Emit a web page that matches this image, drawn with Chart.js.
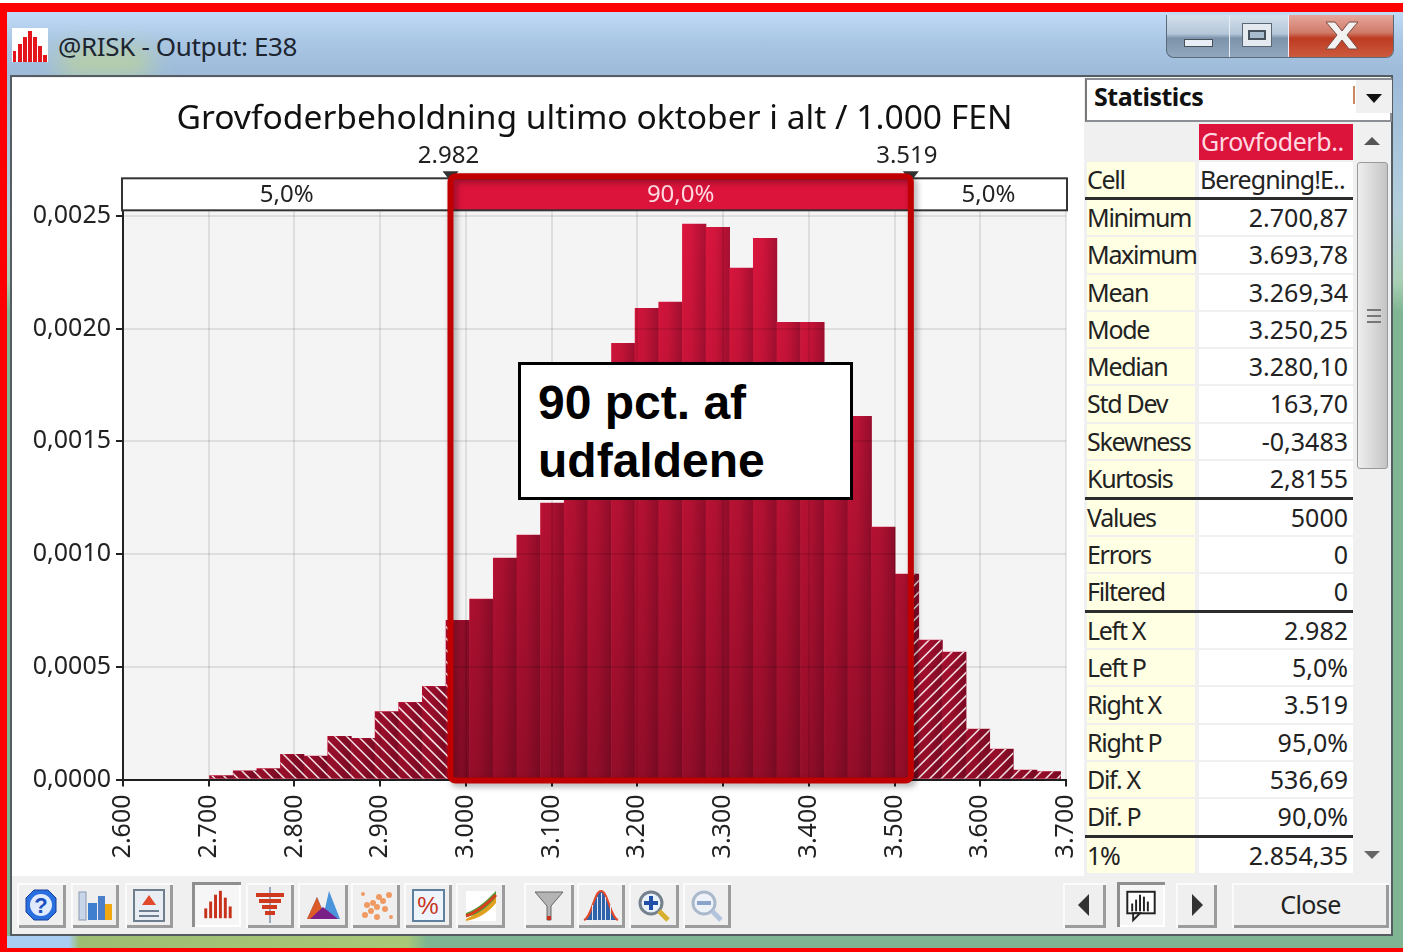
<!DOCTYPE html>
<html>
<head>
<meta charset="utf-8">
<title>@RISK - Output: E38</title>
<script src="https://cdn.jsdelivr.net/npm/chart.js@4"></script>
<style>
html, body { margin: 0; padding: 0; background: #fff; }
body { position: relative; width: 1403px; height: 952px; overflow: hidden; font-family: "Noto Sans", sans-serif; color: #222; }
div { position: absolute; box-sizing: border-box; }
#soft { left: 0; top: 0; width: 1403px; height: 952px; filter: blur(0.55px); }
#redtop { left: 0; top: 3px; width: 1403px; height: 9px; background: #f00; z-index: 9; }
#redleft { left: 0; top: 3px; width: 7px; height: 949px; background: #f00; z-index: 9; }
#redbot { left: 0; top: 948px; width: 1403px; height: 4px; background: #f00; z-index: 9; }
#aero { left: 7px; top: 12px; width: 1396px; height: 936px; background: linear-gradient(#c0dbf6 0, #a9c6e4 30px, #9dbbd9 62px, #b4cfdc 200px, #a8cfb4 270px, #7fb592 300px, #7fb592 100%); }
#strip { left: 7px; top: 936px; width: 1396px; height: 12px; background: linear-gradient(90deg, #a9cdf0 0, #a9cdf0 62px, #9dbd72 72px, #a9c878 400px, #7fb592 420px, #7fb592 100%); }
#blot { left: 60px; top: 50px; width: 90px; height: 24px; background: #bcd29a; filter: blur(12px); }
#titletext { left: 58px; top: 26px; font-size: 26px; line-height: 40px; color: #1c2530; white-space: nowrap; letter-spacing: -0.35px; }
#client { left: 10px; top: 75px; width: 1383px; height: 861px; background: #f0f0f0; border: 2px solid #555c62; }
#plotbg { left: 12px; top: 78px; width: 1072px; height: 798px; background: #fff; }
canvas { position: absolute; left: 12px; top: 78px; }
#winbtns { left: 1166px; top: 15px; width: 228px; height: 43px; border: 1px solid #5b6a78; border-top: 0; border-radius: 0 0 8px 8px; overflow: hidden; background: linear-gradient(#d3e0ec 0, #b4c6d8 45%, #7c93ab 55%, #90a7bd 100%); }
#closebtn { left: 121px; top: 0; width: 106px; height: 42px; background: linear-gradient(#e6a79c 0, #cf7a68 42%, #bd3b22 55%, #cc5a3e 100%); border-left: 1px solid #eef; }
#restore { left: 62px; top: 0; width: 1px; height: 42px; background: #e8eef4; }
.wglyph { background: #e8eef4; border: 1px solid #46515c; }
#maxglyph { left: 75px; top: 8px; width: 30px; height: 24px; background: #e4eaf0; border: 1px solid #5a6672; }
#maxglyph div { left: 5px; top: 6px; width: 18px; height: 10px; background: #a9bccd; border: 2px solid #46515c; }
#head { left: 1085px; top: 78px; width: 307px; height: 44px; background: #fff; border: 2px solid #8b8f93; border-left-color: #777; }
#headtext { left: 1094px; top: 77px; font-size: 25px; line-height: 38px; font-weight: 700; color: #111; letter-spacing: -0.5px; }
#headmark { left: 1353px; top: 86px; width: 2px; height: 18px; background: #c98a60; }
#dropbtn { left: 1356px; top: 80px; width: 36px; height: 33px; background: #f0f0f0; }
#drop { left: 1366px; top: 94px; width: 0; height: 0; border: 8px solid transparent; border-top: 9px solid #111; border-bottom: 0; }
#stats { left: 1085px; top: 124px; width: 268px; height: 751px; background: #f0f0f0; }
.row { position: relative; height: 37.25px; display: block; border-bottom: 2px solid #f0f0f0; }
.row.sep { height: 38.7px; border-bottom: 3px solid #2c2c2c; }
.lab { left: 2px; top: 0; width: 108px; height: 100%; background: #ffffe4; font-size: 25px; line-height: 34px; letter-spacing: -1.3px; white-space: nowrap; overflow: visible; }
.val { left: 114px; top: 0; width: 154px; height: 100%; background: #fff; font-size: 25px; line-height: 34px; text-align: right; padding-right: 5px; white-space: nowrap; }
.row.first .lab { background: #f0f0f0; }
.row.first .val { background: #dc143c; color: #ffd9e0; padding: 0 0 0 2px; text-align: left; letter-spacing: -0.4px; }
.row.first { height: 37.5px; }
.row:nth-child(2) .val { letter-spacing: -0.9px; padding: 0 0 0 1px; text-align: left; }
#scroll { left: 1354px; top: 124px; width: 37px; height: 751px; background: #f0f0f0; }
#thumb { left: 3px; top: 38px; width: 31px; height: 307px; border: 1px solid #9a9a9a; border-radius: 3px; background: linear-gradient(90deg, #eee, #dedede 40%, #c4c4c4 100%); }
.grip { left: 9px; width: 14px; height: 2px; background: #777; }
.arrowup { left: 10px; width: 0; height: 0; border: 8px solid transparent; border-bottom: 8px solid #555; border-top: 0; }
.arrowdn { left: 10px; width: 0; height: 0; border: 8px solid transparent; border-top: 8px solid #666; border-bottom: 0; }
.btn { top: 883px; height: 45px; background: #efefef; box-shadow: inset 2px 2px 0 #fbfbfb, inset -3px -3px 0 #9c9c9c; }
.btn.on { top: 882px; background: #f6f6f6; box-shadow: inset 3px 3px 0 #8f8f8f, inset -2px -2px 0 #fff; }
.btn svg { position: absolute; left: 0; top: 0; width: 100%; height: 100%; }
#closetxt { left: 1232px; width: 157px; font-size: 25px; line-height: 42px; text-align: center; letter-spacing: -0.6px; }
#note { left: 518px; top: 362px; width: 335px; height: 138px; background: #fff; border: 3px solid #000; z-index: 5; font-family: "Liberation Sans", Arial, sans-serif; font-weight: 700; font-size: 48px; line-height: 58px; color: #000; padding: 9px 0 0 17px; white-space: nowrap; }
</style>
</head>
<body>
<div id="soft">
  <div id="aero"></div>
  <div id="blot"></div>
  <div id="strip"></div>
  <div style="left:12px;top:28px;width:36px;height:34px;background:#fff"><svg width="36" height="34" style="position:absolute;left:0;top:0"><g fill="#e3141b"><rect x="1" y="23" width="3" height="11"/><rect x="6" y="16" width="4" height="18"/><rect x="11" y="9" width="4" height="25"/><rect x="16" y="3" width="4" height="31"/><rect x="21" y="9" width="4" height="25"/><rect x="26" y="18" width="4" height="16"/><rect x="31" y="27" width="4" height="7"/></g></svg></div>
  <div id="titletext">@RISK - Output: E38</div>
  <div id="winbtns">
    <div id="restore"></div>
    <div id="closebtn"></div>
    <div class="wglyph" style="left:17px;top:24px;width:29px;height:8px"></div>
    <div id="maxglyph"><div></div></div>
  </div>
  <svg width="40" height="34" style="position:absolute;left:1322px;top:19px"><path d="M4 3 L13 3 L20 12 L27 3 L36 3 L25 16 L36 30 L27 30 L20 21 L13 30 L4 30 L15 16 Z" fill="#f2f2f2" stroke="#7a4a40" stroke-width="1"/></svg>
  <div id="client"></div>
  <div id="plotbg"></div>
  <canvas id="chart" width="1072" height="798"></canvas>

  <div id="head"></div>
  <div id="headtext">Statistics</div>
  <div id="headmark"></div>
  <div id="dropbtn"></div>
  <div id="drop"></div>
  <div id="stats"></div>
  <div id="scroll">
    <div class="arrowup" style="top:13px"></div>
    <div id="thumb">
      <div class="grip" style="top:146px"></div>
      <div class="grip" style="top:152px"></div>
      <div class="grip" style="top:158px"></div>
    </div>
    <div class="arrowdn" style="top:727px"></div>
  </div>

  <div class="btn" style="left:17px;width:49px"><svg viewBox="0 0 49 45"><path d="M17 7 H31 L39 15 V29 L31 37 H17 L9 29 V15 Z" fill="#2a6fe0" stroke="#1a3f9a"/><circle cx="24" cy="22" r="11" fill="#dfeaff"/><text x="24" y="30" font-size="22" font-weight="700" text-anchor="middle" fill="#1a4fc0" font-family="Liberation Sans">?</text></svg></div>
  <div class="btn" style="left:71px;width:48px"><svg viewBox="0 0 48 45"><rect x="8" y="9" width="7" height="28" fill="#c9d6ea" stroke="#8899b0"/><rect x="17" y="20" width="9" height="17" fill="#3f7fd0"/><rect x="27" y="13" width="7" height="24" fill="#4a7ec8"/><rect x="34" y="21" width="7" height="16" fill="#f0a810"/></svg></div>
  <div class="btn" style="left:125px;width:48px"><svg viewBox="0 0 48 45"><rect x="9" y="7" width="30" height="31" fill="#e9eef4" stroke="#6f7f8f" stroke-width="2"/><path d="M24 12 L31 22 H17 Z" fill="#e2492a"/><rect x="14" y="27" width="20" height="2" fill="#6f7f8f"/><rect x="14" y="32" width="20" height="2" fill="#6f7f8f"/></svg></div>
  <div class="btn on" style="left:192px;width:49px"><svg viewBox="0 0 49 46"><g fill="#c8321c"><rect x="12" y="27" width="3" height="10"/><rect x="17" y="20" width="3" height="17"/><rect x="22" y="13" width="3" height="24"/><rect x="27" y="9" width="3" height="28"/><rect x="32" y="16" width="3" height="21"/><rect x="37" y="25" width="3" height="12"/></g></svg></div>
  <div class="btn" style="left:246px;width:48px"><svg viewBox="0 0 48 45"><rect x="23" y="4" width="2" height="36" fill="#9aa8c0"/><g fill="#cf3a1e"><rect x="10" y="10" width="28" height="4"/><rect x="13" y="16" width="22" height="4"/><rect x="16" y="22" width="15" height="4"/><rect x="19" y="28" width="10" height="4"/></g></svg></div>
  <div class="btn" style="left:298px;width:50px"><svg viewBox="0 0 50 45"><path d="M9 36 L19 14 L26 30 L31 8 L42 36 Z" fill="#4a94dc"/><path d="M9 36 L19 14 L28 36 Z" fill="#dc5a28"/><path d="M12 36 L25 24 L40 36 Z" fill="#7a1e88"/></svg></div>
  <div class="btn" style="left:351px;width:49px"><svg viewBox="0 0 49 45" fill="#ef9a62"><circle cx="14" cy="32" r="3"/><circle cx="20" cy="28" r="3"/><circle cx="26" cy="24" r="3"/><circle cx="32" cy="18" r="3"/><circle cx="38" cy="12" r="3"/><circle cx="28" cy="14" r="3"/><circle cx="22" cy="20" r="3"/><circle cx="34" cy="26" r="3"/><circle cx="16" cy="22" r="3"/><circle cx="12" cy="11" r="2"/><circle cx="40" cy="34" r="2"/><circle cx="26" cy="34" r="3"/></svg></div>
  <div class="btn" style="left:404px;width:48px"><svg viewBox="0 0 48 45"><rect x="9" y="7" width="31" height="31" fill="#eef4fb" stroke="#5f7f9f" stroke-width="2"/><text x="24" y="31" font-size="24" text-anchor="middle" fill="#c8321c" font-family="Liberation Sans">%</text></svg></div>
  <div class="btn" style="left:456px;width:49px"><svg viewBox="0 0 49 45"><rect x="10" y="8" width="30" height="30" fill="#fff"/><path d="M10 36 C22 30 32 22 40 8 V20 C32 30 22 36 10 38 Z" fill="#e2a020"/><path d="M10 30 C22 26 32 16 40 8 V14 C32 24 22 32 10 34 Z" fill="#4f9a3a"/><path d="M10 33 C22 29 32 20 40 12" stroke="#d8401c" stroke-width="3" fill="none"/></svg></div>
  <div class="btn" style="left:524px;width:50px"><svg viewBox="0 0 50 45"><path d="M11 9 H39 L27 23 V37 H23 V23 Z" fill="#b4b4b4" stroke="#666"/><rect x="23" y="33" width="4" height="4" fill="#c8321c"/></svg></div>
  <div class="btn" style="left:577px;width:48px"><svg viewBox="0 0 48 45"><path d="M7 37 C15 34 17 8 24 8 C31 8 33 34 41 37 Z" fill="#2f62a8"/><path d="M7 37 C15 34 17 8 24 8 C31 8 33 34 41 37" fill="none" stroke="#e2492a" stroke-width="2"/><g fill="#dfe9f6"><rect x="15" y="22" width="1" height="15"/><rect x="20" y="14" width="1" height="23"/><rect x="24" y="10" width="1" height="27"/><rect x="28" y="14" width="1" height="23"/><rect x="33" y="22" width="1" height="15"/></g></svg></div>
  <div class="btn" style="left:629px;width:50px"><svg viewBox="0 0 50 45"><circle cx="22" cy="20" r="11" fill="#e8f0fa" stroke="#74808c" stroke-width="3"/><path d="M15 20 H29 M22 13 V27" stroke="#1f4fa8" stroke-width="4"/><path d="M30 28 L39 37" stroke="#d8b030" stroke-width="5"/></svg></div>
  <div class="btn" style="left:683px;width:48px"><svg viewBox="0 0 48 45"><circle cx="21" cy="20" r="11" fill="#eef3fa" stroke="#aab8cc" stroke-width="3"/><path d="M14 20 H28" stroke="#8aa4cc" stroke-width="4"/><path d="M29 28 L38 37" stroke="#b4c4dc" stroke-width="5"/></svg></div>
  <div class="btn" style="left:1063px;width:43px"><svg viewBox="0 0 43 45"><path d="M26 11 V33 L15 22 Z" fill="#333"/></svg></div>
  <div class="btn on" style="left:1117px;width:48px"><svg viewBox="0 0 48 46"><rect x="10" y="10" width="28" height="22" fill="#fff" stroke="#222" stroke-width="2"/><path d="M16 32 L16 39 L23 32 Z" fill="#fff" stroke="#222" stroke-width="2"/><g fill="#222"><rect x="14" y="22" width="2" height="8"/><rect x="18" y="18" width="2" height="12"/><rect x="22" y="13" width="2" height="17"/><rect x="26" y="15" width="2" height="15"/><rect x="30" y="20" width="2" height="10"/></g></svg></div>
  <div class="btn" style="left:1176px;width:41px"><svg viewBox="0 0 41 45"><path d="M16 11 V33 L27 22 Z" fill="#333"/></svg></div>
  <div class="btn" id="closetxt">Close</div>
</div>
<div id="redtop"></div>
<div id="redleft"></div>
<div id="redbot"></div>
<div id="note">90 pct. af<br>udfaldene</div>

<script>
// histogram, x = bin centre, y = relative frequency
const binCenters = [2714.7, 2742.3, 2769.9, 2797.4, 2825.0, 2852.6, 2880.2, 2907.8, 2935.3, 2962.9,
    2990.5, 3018.1, 3045.7, 3073.2, 3100.8, 3128.4, 3156.0, 3183.6, 3211.1, 3238.7,
    3266.3, 3293.9, 3321.5, 3349.0, 3376.6, 3404.2, 3431.8, 3459.4, 3486.9, 3514.5,
    3542.1, 3569.7, 3597.3, 3624.8, 3652.4, 3680.0];
const binDensity = [0.000017, 0.000039, 0.000048, 0.000112, 0.000104, 0.000192, 0.000183, 0.000301, 0.000342, 0.000413,
    0.000706, 0.000800, 0.000982, 0.001084, 0.001226, 0.001420, 0.001680, 0.001935, 0.002090, 0.002117,
    0.002463, 0.002449, 0.002268, 0.002400, 0.002028, 0.002028, 0.001770, 0.001611, 0.001119, 0.000911,
    0.000618, 0.000565, 0.000224, 0.000135, 0.000042, 0.000035];

const chartTitle = "Grovfoderbeholdning ultimo oktober i alt / 1.000 FEN";
const leftX = 2982;
const rightX = 3519;
const bandLabels = ["5,0%", "90,0%", "5,0%"];

const statLabels = ["", "Cell", "Minimum", "Maximum", "Mean", "Mode", "Median", "Std Dev", "Skewness", "Kurtosis",
    "Values", "Errors", "Filtered", "Left X", "Left P", "Right X", "Right P", "Dif. X", "Dif. P", "1%"];
const statValues = ["Grovfoderb..", "Beregning!E..", "2.700,87", "3.693,78", "3.269,34", "3.250,25", "3.280,10", "163,70", "-0,3483", "2,8155",
    "5000", "0", "0", "2.982", "5,0%", "3.519", "95,0%", "536,69", "90,0%", "2.854,35"];
const statBreaks = ["Cell", "Kurtosis", "Filtered", "Dif. P"];

const statsBox = document.getElementById("stats");
statLabels.forEach(function (label, i) {
    const row = document.createElement("div");
    row.className = "row" + (i === 0 ? " first" : "") + (statBreaks.includes(label) ? " sep" : "");
    const a = document.createElement("div");
    a.className = "lab";
    a.textContent = label;
    const b = document.createElement("div");
    b.className = "val";
    b.textContent = statValues[i];
    row.appendChild(a);
    row.appendChild(b);
    statsBox.appendChild(row);
});

const textColor = "#222";
const axisFont = { family: "'Noto Sans', sans-serif", size: 25 };

function barFill(ctx) {
    if (ctx.type !== "data") return "#c8143c";
    const sx = ctx.chart.scales.x;
    const half = (sx.getPixelForValue(binCenters[1]) - sx.getPixelForValue(binCenters[0])) / 2;
    const cx = sx.getPixelForValue(binCenters[ctx.dataIndex]);
    // scales have no pixels yet on the first pass
    if (!Number.isFinite(cx) || !Number.isFinite(half)) return "#c8143c";
    const g = ctx.chart.ctx.createLinearGradient(cx - half, 0, cx + half, 0);
    g.addColorStop(0, "#de163e");
    g.addColorStop(0.4, "#d4153c");
    g.addColorStop(1, "#a81032");
    return g;
}

function barsPath(chart, ctx, fromPx, toPx) {
    const meta = chart.getDatasetMeta(0);
    ctx.beginPath();
    meta.data.forEach(function (bar) {
        const p = bar.getProps(["x", "y", "base", "width"], true);
        const l = Math.max(p.x - p.width / 2, fromPx);
        const r = Math.min(p.x + p.width / 2, toPx);
        if (r > l) ctx.rect(l, p.y, r - l, p.base - p.y);
    });
}

// plot background, hatch on the two tails, band and markers above the plot
const riskPlugin = {
    id: "risk",
    beforeDatasetsDraw(chart) {
        const a = chart.chartArea;
        chart.ctx.save();
        chart.ctx.fillStyle = "#f4f4f4";
        chart.ctx.fillRect(a.left, a.top, a.right - a.left, a.bottom - a.top);
        chart.ctx.restore();
    },
    afterDatasetsDraw(chart) {
        const ctx = chart.ctx;
        const a = chart.chartArea;
        const lx = chart.scales.x.getPixelForValue(leftX);
        const rx = chart.scales.x.getPixelForValue(rightX);

        // bars get darker towards the axis
        ctx.save();
        barsPath(chart, ctx, a.left, a.right);
        ctx.clip();
        const shade = ctx.createLinearGradient(0, a.top, 0, a.bottom);
        shade.addColorStop(0, "rgba(40,0,10,0)");
        shade.addColorStop(1, "rgba(40,0,10,0.4)");
        ctx.fillStyle = shade;
        ctx.fillRect(a.left, a.top, a.right - a.left, a.bottom - a.top);
        ctx.restore();

        ctx.save();
        ctx.strokeStyle = "rgba(255,255,255,0.85)";
        ctx.lineWidth = 1.6;
        barsPath(chart, ctx, a.left, lx);
        ctx.clip();
        ctx.beginPath();
        for (let x = a.left - 600; x < lx + 20; x += 11.6) {
            ctx.moveTo(x, a.bottom - 600);
            ctx.lineTo(x + 600, a.bottom);
        }
        ctx.stroke();
        ctx.restore();

        ctx.save();
        ctx.strokeStyle = "rgba(255,255,255,0.85)";
        ctx.lineWidth = 1.6;
        barsPath(chart, ctx, rx, a.right);
        ctx.clip();
        ctx.beginPath();
        for (let x = rx - 20; x < a.right + 600; x += 11.6) {
            ctx.moveTo(x, a.bottom - 600);
            ctx.lineTo(x - 600, a.bottom);
        }
        ctx.stroke();
        ctx.restore();
    },
    afterDraw(chart) {
        const ctx = chart.ctx;
        const a = chart.chartArea;
        const lx = chart.scales.x.getPixelForValue(leftX);
        const rx = chart.scales.x.getPixelForValue(rightX);
        const bandTop = a.top - 33;
        const bandH = 32;

        ctx.save();
        ctx.fillStyle = "#fff";
        ctx.fillRect(a.left - 1, bandTop, a.right - a.left + 2, bandH);
        ctx.fillStyle = "#dc143c";
        ctx.fillRect(lx, bandTop, rx - lx, bandH);
        ctx.strokeStyle = "#333";
        ctx.lineWidth = 2;
        ctx.strokeRect(a.left - 1, bandTop, a.right - a.left + 2, bandH);

        ctx.font = "24px 'Noto Sans', sans-serif";
        ctx.textAlign = "center";
        ctx.textBaseline = "middle";
        ctx.fillStyle = textColor;
        ctx.fillText(bandLabels[0], (a.left + lx) / 2, bandTop + 17);
        ctx.fillText(bandLabels[2], (rx + a.right) / 2, bandTop + 17);
        ctx.fillStyle = "#ffd9e0";
        ctx.fillText(bandLabels[1], (lx + rx) / 2, bandTop + 17);

        ctx.fillStyle = textColor;
        ctx.fillText("2.982", lx - 2, bandTop - 22);
        ctx.fillText("3.519", rx - 4, bandTop - 22);

        ctx.fillStyle = "#333";
        [lx, rx].forEach(function (x) {
            ctx.beginPath();
            ctx.moveTo(x - 8, bandTop - 7);
            ctx.lineTo(x + 8, bandTop - 7);
            ctx.lineTo(x, bandTop + 3);
            ctx.fill();
        });

        // the thick red frame put over the 90 % area
        ctx.shadowColor = "rgba(0,0,0,0.35)";
        ctx.shadowBlur = 6;
        ctx.shadowOffsetX = 3;
        ctx.shadowOffsetY = 3;
        ctx.strokeStyle = "#c00000";
        ctx.lineWidth = 6;
        ctx.lineJoin = "round";
        ctx.beginPath();
        ctx.roundRect(lx, bandTop - 2, rx - lx, a.bottom - bandTop + 3, 5);
        ctx.stroke();
        ctx.restore();
    }
};

const chartConfig = {
    type: "bar",
    data: {
        datasets: [
            {
                data: binCenters.map(function (x, i) { return { x: x, y: binDensity[i] }; }),
                backgroundColor: barFill,
                borderWidth: 0,
                barPercentage: 1,
                categoryPercentage: 1,
            },
        ],
    },
    options: {
        responsive: false,
        animation: false,
        layout: { padding: { top: 0, right: 18, bottom: 0, left: 0 } },
        plugins: {
            legend: { display: false },
            tooltip: { enabled: false },
            title: {
                display: true,
                fullSize: false,
                text: chartTitle,
                color: "#111",
                font: { family: "'Noto Sans', sans-serif", size: 33.6, weight: "normal", lineHeight: 1.2 },
                padding: { top: 21, bottom: 72 },
            },
        },
        scales: {
            x: {
                type: "linear",
                min: 2600,
                max: 3700,
                offset: false,
                // the rotated end labels must not pull the plot in
                afterFit: function (axis) {
                    axis.height = 96.5;
                    axis.paddingLeft = 0;
                    axis.paddingRight = 0;
                },
                ticks: {
                    stepSize: 100,
                    minRotation: 90,
                    maxRotation: 90,
                    padding: 8,
                    color: textColor,
                    font: axisFont,
                    callback: function (v) { return (v / 1000).toFixed(3); },
                },
                grid: { offset: false, color: "rgba(0,0,0,0.09)", lineWidth: 2, tickColor: "#222", tickLength: 7, z: 1 },
                border: { color: "#222", width: 2, z: 1 },
            },
            y: {
                min: 0,
                max: 0.00252,
                afterFit: function (axis) { axis.width = 111; },
                ticks: {
                    stepSize: 0.0005,
                    includeBounds: false,
                    padding: 5,
                    color: textColor,
                    font: axisFont,
                    callback: function (v) { return v.toFixed(4).replace(".", ","); },
                },
                grid: { color: "rgba(0,0,0,0.09)", lineWidth: 2, tickColor: "#222", tickLength: 7, z: 1 },
                border: { color: "#222", width: 2, z: 1 },
            },
        },
    },
    plugins: [riskPlugin],
};

window.myChart = new Chart(document.getElementById("chart"), chartConfig);
</script>
</body>
</html>
